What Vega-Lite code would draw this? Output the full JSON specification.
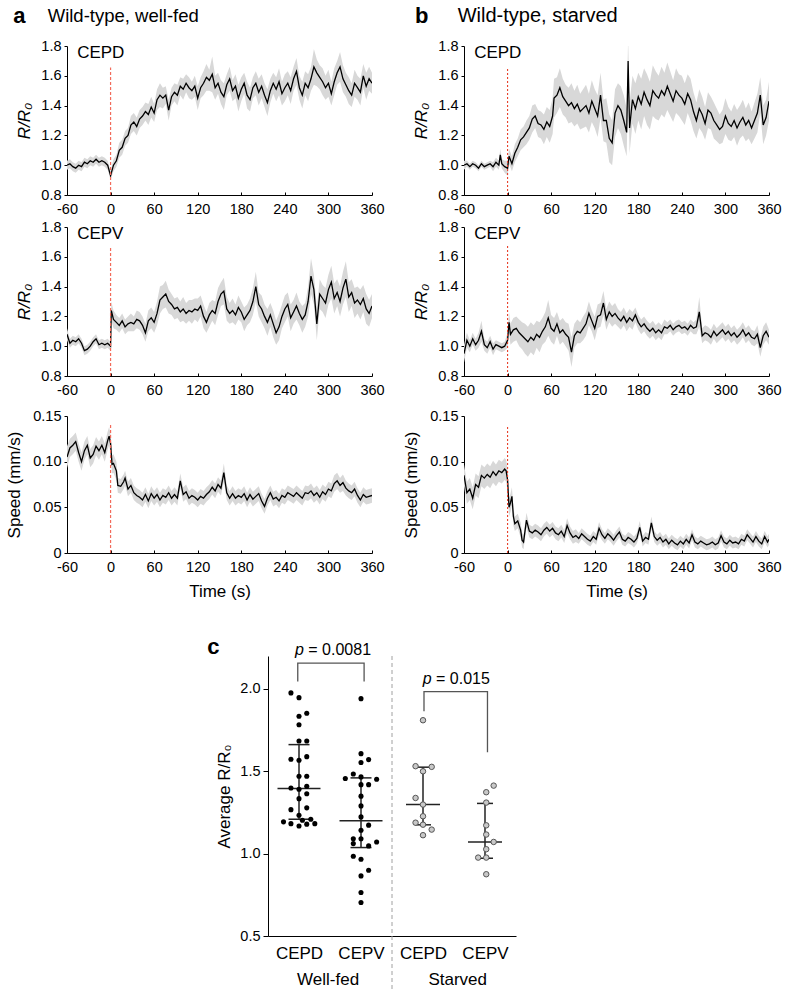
{
"$schema":"https://vega.github.io/schema/vega-lite/v6.json",
"background":"white",
"padding":5,
"config":{"font":"Liberation Sans","view":{"stroke":null},
"axis":{"grid":false,"domainColor":"#000","tickColor":"#000","labelColor":"#000","titleColor":"#000","labelFontSize":14.5,"titleFontSize":17,"titleFontWeight":"normal","domainWidth":1,"tickWidth":1,"labelOverlap":false,"labelFlush":false},
"text":{"color":"#000"}},
"datasets":{
"a1":[{"t":-60,"m":1.0,"e":0.03},{"t":-56,"m":1.01,"e":0.03},{"t":-52,"m":0.99,"e":0.03},{"t":-48,"m":0.98,"e":0.03},{"t":-44,"m":1.0,"e":0.03},{"t":-40,"m":0.99,"e":0.03},{"t":-36,"m":1.02,"e":0.03},{"t":-32,"m":1.01,"e":0.03},{"t":-28,"m":1.03,"e":0.03},{"t":-24,"m":1.02,"e":0.03},{"t":-20,"m":1.04,"e":0.03},{"t":-16,"m":1.02,"e":0.03},{"t":-12,"m":1.03,"e":0.03},{"t":-8,"m":1.02,"e":0.03},{"t":-4,"m":1.0,"e":0.03},{"t":0,"m":0.93,"e":0.03},{"t":4,"m":1.0,"e":0.04},{"t":8,"m":1.03,"e":0.04},{"t":12,"m":1.1,"e":0.05},{"t":16,"m":1.12,"e":0.05},{"t":20,"m":1.18,"e":0.05},{"t":24,"m":1.2,"e":0.05},{"t":28,"m":1.27,"e":0.06},{"t":32,"m":1.29,"e":0.06},{"t":36,"m":1.26,"e":0.06},{"t":40,"m":1.31,"e":0.06},{"t":44,"m":1.33,"e":0.06},{"t":48,"m":1.36,"e":0.06},{"t":52,"m":1.34,"e":0.07},{"t":56,"m":1.39,"e":0.07},{"t":60,"m":1.35,"e":0.06},{"t":64,"m":1.44,"e":0.07},{"t":68,"m":1.47,"e":0.08},{"t":72,"m":1.45,"e":0.07},{"t":76,"m":1.47,"e":0.06},{"t":80,"m":1.37,"e":0.07},{"t":84,"m":1.46,"e":0.06},{"t":88,"m":1.49,"e":0.06},{"t":92,"m":1.47,"e":0.07},{"t":96,"m":1.53,"e":0.06},{"t":100,"m":1.51,"e":0.07},{"t":104,"m":1.55,"e":0.06},{"t":108,"m":1.52,"e":0.07},{"t":112,"m":1.5,"e":0.06},{"t":116,"m":1.53,"e":0.07},{"t":120,"m":1.45,"e":0.08},{"t":124,"m":1.52,"e":0.07},{"t":128,"m":1.55,"e":0.08},{"t":132,"m":1.59,"e":0.09},{"t":136,"m":1.57,"e":0.07},{"t":140,"m":1.61,"e":0.12},{"t":144,"m":1.52,"e":0.08},{"t":148,"m":1.55,"e":0.07},{"t":152,"m":1.49,"e":0.08},{"t":156,"m":1.46,"e":0.09},{"t":160,"m":1.54,"e":0.07},{"t":164,"m":1.58,"e":0.08},{"t":168,"m":1.5,"e":0.07},{"t":172,"m":1.53,"e":0.08},{"t":176,"m":1.45,"e":0.09},{"t":180,"m":1.51,"e":0.08},{"t":184,"m":1.55,"e":0.07},{"t":188,"m":1.47,"e":0.09},{"t":192,"m":1.44,"e":0.08},{"t":196,"m":1.52,"e":0.07},{"t":200,"m":1.55,"e":0.08},{"t":204,"m":1.49,"e":0.09},{"t":208,"m":1.53,"e":0.08},{"t":212,"m":1.47,"e":0.08},{"t":216,"m":1.42,"e":0.09},{"t":220,"m":1.5,"e":0.08},{"t":224,"m":1.55,"e":0.07},{"t":228,"m":1.51,"e":0.08},{"t":232,"m":1.56,"e":0.09},{"t":236,"m":1.48,"e":0.08},{"t":240,"m":1.52,"e":0.09},{"t":244,"m":1.55,"e":0.08},{"t":248,"m":1.5,"e":0.09},{"t":252,"m":1.58,"e":0.08},{"t":256,"m":1.63,"e":0.09},{"t":260,"m":1.52,"e":0.08},{"t":264,"m":1.47,"e":0.09},{"t":268,"m":1.55,"e":0.08},{"t":272,"m":1.52,"e":0.09},{"t":276,"m":1.58,"e":0.08},{"t":280,"m":1.66,"e":0.12},{"t":284,"m":1.62,"e":0.09},{"t":288,"m":1.59,"e":0.08},{"t":292,"m":1.56,"e":0.09},{"t":296,"m":1.52,"e":0.08},{"t":300,"m":1.55,"e":0.09},{"t":304,"m":1.48,"e":0.08},{"t":308,"m":1.56,"e":0.09},{"t":312,"m":1.62,"e":0.08},{"t":316,"m":1.66,"e":0.1},{"t":320,"m":1.58,"e":0.09},{"t":324,"m":1.54,"e":0.08},{"t":328,"m":1.5,"e":0.09},{"t":332,"m":1.47,"e":0.08},{"t":336,"m":1.55,"e":0.09},{"t":340,"m":1.52,"e":0.08},{"t":344,"m":1.49,"e":0.09},{"t":348,"m":1.6,"e":0.08},{"t":352,"m":1.53,"e":0.09},{"t":356,"m":1.58,"e":0.08},{"t":360,"m":1.55,"e":0.07}],
"a2":[{"t":-60,"m":1.08,"e":0.04},{"t":-56,"m":1.02,"e":0.03},{"t":-52,"m":1.04,"e":0.03},{"t":-48,"m":1.03,"e":0.03},{"t":-44,"m":1.05,"e":0.03},{"t":-40,"m":1.02,"e":0.03},{"t":-36,"m":0.97,"e":0.03},{"t":-32,"m":0.98,"e":0.03},{"t":-28,"m":1.0,"e":0.03},{"t":-24,"m":1.03,"e":0.03},{"t":-20,"m":1.05,"e":0.03},{"t":-16,"m":1.01,"e":0.03},{"t":-12,"m":1.02,"e":0.03},{"t":-8,"m":1.01,"e":0.03},{"t":-4,"m":1.02,"e":0.03},{"t":0,"m":1.0,"e":0.03},{"t":1,"m":1.24,"e":0.06},{"t":4,"m":1.18,"e":0.06},{"t":8,"m":1.16,"e":0.05},{"t":12,"m":1.14,"e":0.05},{"t":16,"m":1.17,"e":0.05},{"t":20,"m":1.13,"e":0.05},{"t":24,"m":1.15,"e":0.05},{"t":28,"m":1.16,"e":0.06},{"t":32,"m":1.15,"e":0.05},{"t":36,"m":1.18,"e":0.06},{"t":40,"m":1.17,"e":0.06},{"t":44,"m":1.14,"e":0.06},{"t":48,"m":1.09,"e":0.06},{"t":52,"m":1.17,"e":0.07},{"t":56,"m":1.19,"e":0.07},{"t":60,"m":1.16,"e":0.07},{"t":64,"m":1.22,"e":0.08},{"t":68,"m":1.31,"e":0.09},{"t":72,"m":1.33,"e":0.08},{"t":76,"m":1.35,"e":0.09},{"t":80,"m":1.3,"e":0.08},{"t":84,"m":1.28,"e":0.07},{"t":88,"m":1.25,"e":0.07},{"t":92,"m":1.26,"e":0.07},{"t":96,"m":1.23,"e":0.07},{"t":100,"m":1.25,"e":0.08},{"t":104,"m":1.22,"e":0.07},{"t":108,"m":1.24,"e":0.07},{"t":112,"m":1.23,"e":0.08},{"t":116,"m":1.25,"e":0.07},{"t":120,"m":1.24,"e":0.08},{"t":124,"m":1.27,"e":0.07},{"t":128,"m":1.2,"e":0.08},{"t":132,"m":1.16,"e":0.07},{"t":136,"m":1.21,"e":0.08},{"t":140,"m":1.24,"e":0.07},{"t":144,"m":1.22,"e":0.08},{"t":148,"m":1.3,"e":0.09},{"t":152,"m":1.35,"e":0.08},{"t":156,"m":1.37,"e":0.09},{"t":160,"m":1.25,"e":0.08},{"t":164,"m":1.22,"e":0.07},{"t":168,"m":1.24,"e":0.08},{"t":172,"m":1.21,"e":0.07},{"t":176,"m":1.26,"e":0.08},{"t":180,"m":1.23,"e":0.07},{"t":184,"m":1.18,"e":0.08},{"t":188,"m":1.21,"e":0.07},{"t":192,"m":1.24,"e":0.08},{"t":196,"m":1.3,"e":0.09},{"t":200,"m":1.4,"e":0.1},{"t":204,"m":1.28,"e":0.08},{"t":208,"m":1.25,"e":0.09},{"t":212,"m":1.2,"e":0.08},{"t":216,"m":1.16,"e":0.09},{"t":220,"m":1.21,"e":0.08},{"t":224,"m":1.15,"e":0.09},{"t":228,"m":1.09,"e":0.08},{"t":232,"m":1.13,"e":0.09},{"t":236,"m":1.2,"e":0.08},{"t":240,"m":1.25,"e":0.09},{"t":244,"m":1.28,"e":0.08},{"t":248,"m":1.19,"e":0.09},{"t":252,"m":1.23,"e":0.08},{"t":256,"m":1.27,"e":0.09},{"t":260,"m":1.22,"e":0.08},{"t":264,"m":1.18,"e":0.09},{"t":268,"m":1.21,"e":0.08},{"t":272,"m":1.3,"e":0.1},{"t":276,"m":1.47,"e":0.12},{"t":280,"m":1.38,"e":0.1},{"t":284,"m":1.15,"e":0.11},{"t":288,"m":1.35,"e":0.1},{"t":292,"m":1.32,"e":0.09},{"t":296,"m":1.29,"e":0.1},{"t":300,"m":1.38,"e":0.1},{"t":304,"m":1.43,"e":0.11},{"t":308,"m":1.32,"e":0.1},{"t":312,"m":1.36,"e":0.09},{"t":316,"m":1.3,"e":0.1},{"t":320,"m":1.39,"e":0.11},{"t":324,"m":1.45,"e":0.12},{"t":328,"m":1.33,"e":0.1},{"t":332,"m":1.36,"e":0.09},{"t":336,"m":1.29,"e":0.1},{"t":340,"m":1.31,"e":0.09},{"t":344,"m":1.28,"e":0.1},{"t":348,"m":1.32,"e":0.09},{"t":352,"m":1.25,"e":0.1},{"t":356,"m":1.22,"e":0.09},{"t":360,"m":1.27,"e":0.08}],
"a3":[{"t":-60,"m":0.105,"e":0.012},{"t":-56,"m":0.115,"e":0.01},{"t":-52,"m":0.118,"e":0.01},{"t":-48,"m":0.122,"e":0.01},{"t":-44,"m":0.11,"e":0.01},{"t":-40,"m":0.1,"e":0.01},{"t":-36,"m":0.112,"e":0.01},{"t":-32,"m":0.118,"e":0.01},{"t":-28,"m":0.104,"e":0.01},{"t":-24,"m":0.108,"e":0.01},{"t":-20,"m":0.117,"e":0.01},{"t":-16,"m":0.112,"e":0.01},{"t":-12,"m":0.118,"e":0.01},{"t":-8,"m":0.11,"e":0.01},{"t":-4,"m":0.123,"e":0.01},{"t":-2,"m":0.128,"e":0.01},{"t":0,"m":0.12,"e":0.01},{"t":2,"m":0.097,"e":0.01},{"t":4,"m":0.098,"e":0.01},{"t":8,"m":0.09,"e":0.01},{"t":10,"m":0.074,"e":0.008},{"t":14,"m":0.073,"e":0.008},{"t":18,"m":0.078,"e":0.008},{"t":20,"m":0.082,"e":0.008},{"t":24,"m":0.07,"e":0.008},{"t":28,"m":0.074,"e":0.008},{"t":32,"m":0.066,"e":0.008},{"t":36,"m":0.063,"e":0.008},{"t":40,"m":0.061,"e":0.008},{"t":44,"m":0.058,"e":0.008},{"t":48,"m":0.064,"e":0.008},{"t":52,"m":0.057,"e":0.008},{"t":56,"m":0.065,"e":0.008},{"t":60,"m":0.06,"e":0.008},{"t":64,"m":0.064,"e":0.008},{"t":68,"m":0.058,"e":0.008},{"t":72,"m":0.063,"e":0.008},{"t":76,"m":0.061,"e":0.008},{"t":80,"m":0.066,"e":0.008},{"t":84,"m":0.06,"e":0.008},{"t":88,"m":0.064,"e":0.008},{"t":92,"m":0.06,"e":0.008},{"t":96,"m":0.079,"e":0.008},{"t":100,"m":0.064,"e":0.008},{"t":104,"m":0.067,"e":0.008},{"t":108,"m":0.06,"e":0.008},{"t":112,"m":0.063,"e":0.008},{"t":116,"m":0.061,"e":0.008},{"t":120,"m":0.058,"e":0.008},{"t":124,"m":0.062,"e":0.008},{"t":128,"m":0.06,"e":0.008},{"t":132,"m":0.064,"e":0.008},{"t":136,"m":0.067,"e":0.008},{"t":140,"m":0.072,"e":0.008},{"t":144,"m":0.068,"e":0.008},{"t":148,"m":0.075,"e":0.008},{"t":152,"m":0.071,"e":0.008},{"t":156,"m":0.088,"e":0.01},{"t":160,"m":0.066,"e":0.008},{"t":164,"m":0.06,"e":0.008},{"t":168,"m":0.065,"e":0.008},{"t":172,"m":0.06,"e":0.008},{"t":176,"m":0.063,"e":0.008},{"t":180,"m":0.061,"e":0.008},{"t":184,"m":0.065,"e":0.008},{"t":188,"m":0.058,"e":0.008},{"t":192,"m":0.064,"e":0.008},{"t":196,"m":0.059,"e":0.008},{"t":200,"m":0.062,"e":0.008},{"t":204,"m":0.065,"e":0.008},{"t":208,"m":0.057,"e":0.008},{"t":212,"m":0.051,"e":0.008},{"t":216,"m":0.06,"e":0.008},{"t":220,"m":0.066,"e":0.008},{"t":224,"m":0.059,"e":0.008},{"t":228,"m":0.061,"e":0.008},{"t":232,"m":0.057,"e":0.008},{"t":236,"m":0.063,"e":0.008},{"t":240,"m":0.061,"e":0.008},{"t":244,"m":0.066,"e":0.008},{"t":248,"m":0.064,"e":0.008},{"t":252,"m":0.062,"e":0.008},{"t":256,"m":0.066,"e":0.008},{"t":260,"m":0.063,"e":0.008},{"t":264,"m":0.06,"e":0.008},{"t":268,"m":0.066,"e":0.008},{"t":272,"m":0.065,"e":0.008},{"t":276,"m":0.068,"e":0.008},{"t":280,"m":0.063,"e":0.008},{"t":284,"m":0.066,"e":0.008},{"t":288,"m":0.061,"e":0.008},{"t":292,"m":0.067,"e":0.008},{"t":296,"m":0.064,"e":0.008},{"t":300,"m":0.07,"e":0.008},{"t":304,"m":0.068,"e":0.008},{"t":308,"m":0.076,"e":0.009},{"t":312,"m":0.079,"e":0.009},{"t":316,"m":0.074,"e":0.008},{"t":320,"m":0.077,"e":0.009},{"t":324,"m":0.071,"e":0.008},{"t":328,"m":0.068,"e":0.008},{"t":332,"m":0.066,"e":0.008},{"t":336,"m":0.07,"e":0.008},{"t":340,"m":0.063,"e":0.008},{"t":344,"m":0.058,"e":0.008},{"t":348,"m":0.064,"e":0.008},{"t":352,"m":0.061,"e":0.008},{"t":356,"m":0.062,"e":0.008},{"t":360,"m":0.063,"e":0.008}],
"b1":[{"t":-60,"m":1.0,"e":0.03},{"t":-56,"m":1.01,"e":0.02},{"t":-52,"m":0.99,"e":0.02},{"t":-48,"m":1.01,"e":0.02},{"t":-44,"m":1.0,"e":0.02},{"t":-40,"m":0.98,"e":0.02},{"t":-36,"m":1.01,"e":0.02},{"t":-32,"m":0.99,"e":0.02},{"t":-28,"m":1.0,"e":0.02},{"t":-24,"m":1.01,"e":0.02},{"t":-20,"m":0.99,"e":0.03},{"t":-16,"m":1.02,"e":0.03},{"t":-12,"m":1.0,"e":0.03},{"t":-10,"m":1.07,"e":0.04},{"t":-8,"m":1.01,"e":0.03},{"t":-4,"m":0.99,"e":0.04},{"t":0,"m":0.98,"e":0.05},{"t":2,"m":1.06,"e":0.05},{"t":6,"m":1.01,"e":0.05},{"t":10,"m":1.08,"e":0.06},{"t":14,"m":1.12,"e":0.06},{"t":18,"m":1.17,"e":0.07},{"t":22,"m":1.19,"e":0.07},{"t":26,"m":1.22,"e":0.08},{"t":30,"m":1.25,"e":0.08},{"t":34,"m":1.31,"e":0.09},{"t":38,"m":1.33,"e":0.08},{"t":42,"m":1.28,"e":0.09},{"t":46,"m":1.27,"e":0.09},{"t":50,"m":1.24,"e":0.1},{"t":54,"m":1.29,"e":0.1},{"t":58,"m":1.26,"e":0.11},{"t":62,"m":1.33,"e":0.12},{"t":64,"m":1.45,"e":0.13},{"t":68,"m":1.47,"e":0.12},{"t":72,"m":1.52,"e":0.13},{"t":76,"m":1.46,"e":0.12},{"t":80,"m":1.43,"e":0.11},{"t":84,"m":1.4,"e":0.12},{"t":88,"m":1.42,"e":0.13},{"t":92,"m":1.38,"e":0.12},{"t":96,"m":1.41,"e":0.13},{"t":100,"m":1.36,"e":0.12},{"t":104,"m":1.38,"e":0.13},{"t":108,"m":1.4,"e":0.14},{"t":112,"m":1.35,"e":0.13},{"t":116,"m":1.43,"e":0.14},{"t":120,"m":1.38,"e":0.13},{"t":124,"m":1.33,"e":0.14},{"t":128,"m":1.47,"e":0.15},{"t":132,"m":1.3,"e":0.14},{"t":136,"m":1.3,"e":0.15},{"t":140,"m":1.18,"e":0.16},{"t":144,"m":1.15,"e":0.15},{"t":148,"m":1.35,"e":0.16},{"t":152,"m":1.4,"e":0.15},{"t":156,"m":1.37,"e":0.16},{"t":160,"m":1.3,"e":0.17},{"t":164,"m":1.22,"e":0.16},{"t":166,"m":1.7,"e":0.15},{"t":168,"m":1.25,"e":0.17},{"t":172,"m":1.44,"e":0.16},{"t":176,"m":1.38,"e":0.17},{"t":180,"m":1.46,"e":0.16},{"t":184,"m":1.41,"e":0.17},{"t":188,"m":1.49,"e":0.16},{"t":192,"m":1.44,"e":0.17},{"t":196,"m":1.4,"e":0.16},{"t":200,"m":1.5,"e":0.17},{"t":204,"m":1.47,"e":0.16},{"t":208,"m":1.45,"e":0.15},{"t":212,"m":1.5,"e":0.16},{"t":216,"m":1.47,"e":0.15},{"t":220,"m":1.53,"e":0.16},{"t":224,"m":1.48,"e":0.15},{"t":228,"m":1.43,"e":0.14},{"t":232,"m":1.5,"e":0.15},{"t":236,"m":1.47,"e":0.14},{"t":240,"m":1.45,"e":0.15},{"t":244,"m":1.41,"e":0.14},{"t":248,"m":1.48,"e":0.13},{"t":252,"m":1.44,"e":0.14},{"t":256,"m":1.36,"e":0.13},{"t":260,"m":1.3,"e":0.12},{"t":264,"m":1.38,"e":0.13},{"t":268,"m":1.34,"e":0.12},{"t":272,"m":1.28,"e":0.11},{"t":276,"m":1.37,"e":0.12},{"t":280,"m":1.35,"e":0.11},{"t":284,"m":1.3,"e":0.12},{"t":288,"m":1.27,"e":0.11},{"t":292,"m":1.24,"e":0.1},{"t":296,"m":1.26,"e":0.11},{"t":300,"m":1.33,"e":0.12},{"t":304,"m":1.28,"e":0.11},{"t":308,"m":1.26,"e":0.1},{"t":312,"m":1.3,"e":0.11},{"t":316,"m":1.25,"e":0.12},{"t":320,"m":1.29,"e":0.11},{"t":324,"m":1.32,"e":0.12},{"t":328,"m":1.27,"e":0.11},{"t":332,"m":1.3,"e":0.12},{"t":336,"m":1.25,"e":0.11},{"t":340,"m":1.3,"e":0.12},{"t":344,"m":1.35,"e":0.13},{"t":348,"m":1.47,"e":0.12},{"t":352,"m":1.27,"e":0.13},{"t":356,"m":1.32,"e":0.12},{"t":360,"m":1.43,"e":0.13}],
"b2":[{"t":-60,"m":0.95,"e":0.06},{"t":-56,"m":1.04,"e":0.05},{"t":-52,"m":1.0,"e":0.04},{"t":-48,"m":1.05,"e":0.04},{"t":-44,"m":1.01,"e":0.04},{"t":-40,"m":1.04,"e":0.05},{"t":-36,"m":1.1,"e":0.07},{"t":-32,"m":1.01,"e":0.04},{"t":-28,"m":0.99,"e":0.04},{"t":-24,"m":1.03,"e":0.04},{"t":-20,"m":0.98,"e":0.04},{"t":-16,"m":1.01,"e":0.03},{"t":-12,"m":1.0,"e":0.03},{"t":-8,"m":0.99,"e":0.03},{"t":-4,"m":1.0,"e":0.03},{"t":0,"m":1.04,"e":0.05},{"t":2,"m":1.16,"e":0.07},{"t":4,"m":1.08,"e":0.07},{"t":8,"m":1.11,"e":0.08},{"t":12,"m":1.12,"e":0.08},{"t":16,"m":1.09,"e":0.09},{"t":20,"m":1.07,"e":0.09},{"t":24,"m":1.05,"e":0.1},{"t":28,"m":1.03,"e":0.1},{"t":32,"m":1.06,"e":0.1},{"t":36,"m":1.04,"e":0.1},{"t":40,"m":1.08,"e":0.09},{"t":44,"m":1.06,"e":0.1},{"t":48,"m":1.1,"e":0.09},{"t":52,"m":1.13,"e":0.1},{"t":56,"m":1.19,"e":0.12},{"t":60,"m":1.12,"e":0.09},{"t":64,"m":1.1,"e":0.09},{"t":68,"m":1.15,"e":0.08},{"t":72,"m":1.09,"e":0.08},{"t":76,"m":1.11,"e":0.08},{"t":80,"m":1.08,"e":0.08},{"t":84,"m":1.06,"e":0.09},{"t":88,"m":0.96,"e":0.1},{"t":92,"m":1.07,"e":0.08},{"t":96,"m":1.1,"e":0.08},{"t":100,"m":1.09,"e":0.07},{"t":104,"m":1.12,"e":0.08},{"t":108,"m":1.15,"e":0.08},{"t":112,"m":1.22,"e":0.08},{"t":116,"m":1.17,"e":0.07},{"t":120,"m":1.12,"e":0.08},{"t":124,"m":1.2,"e":0.08},{"t":128,"m":1.21,"e":0.08},{"t":132,"m":1.29,"e":0.08},{"t":136,"m":1.18,"e":0.07},{"t":140,"m":1.23,"e":0.07},{"t":144,"m":1.2,"e":0.07},{"t":148,"m":1.22,"e":0.07},{"t":152,"m":1.19,"e":0.06},{"t":156,"m":1.17,"e":0.06},{"t":160,"m":1.2,"e":0.06},{"t":164,"m":1.16,"e":0.06},{"t":168,"m":1.19,"e":0.06},{"t":172,"m":1.17,"e":0.06},{"t":176,"m":1.21,"e":0.05},{"t":180,"m":1.16,"e":0.05},{"t":184,"m":1.13,"e":0.05},{"t":188,"m":1.15,"e":0.05},{"t":192,"m":1.12,"e":0.05},{"t":196,"m":1.1,"e":0.05},{"t":200,"m":1.12,"e":0.05},{"t":204,"m":1.09,"e":0.05},{"t":208,"m":1.11,"e":0.05},{"t":212,"m":1.09,"e":0.05},{"t":216,"m":1.13,"e":0.05},{"t":220,"m":1.12,"e":0.04},{"t":224,"m":1.14,"e":0.04},{"t":228,"m":1.11,"e":0.04},{"t":232,"m":1.13,"e":0.04},{"t":236,"m":1.14,"e":0.04},{"t":240,"m":1.12,"e":0.04},{"t":244,"m":1.13,"e":0.04},{"t":248,"m":1.11,"e":0.04},{"t":252,"m":1.14,"e":0.04},{"t":256,"m":1.12,"e":0.04},{"t":260,"m":1.13,"e":0.05},{"t":264,"m":1.23,"e":0.1},{"t":268,"m":1.07,"e":0.05},{"t":272,"m":1.09,"e":0.05},{"t":276,"m":1.08,"e":0.05},{"t":280,"m":1.06,"e":0.05},{"t":284,"m":1.1,"e":0.05},{"t":288,"m":1.07,"e":0.05},{"t":292,"m":1.09,"e":0.05},{"t":296,"m":1.11,"e":0.05},{"t":300,"m":1.08,"e":0.05},{"t":304,"m":1.1,"e":0.05},{"t":308,"m":1.07,"e":0.05},{"t":312,"m":1.09,"e":0.05},{"t":316,"m":1.06,"e":0.05},{"t":320,"m":1.08,"e":0.05},{"t":324,"m":1.11,"e":0.05},{"t":328,"m":1.07,"e":0.05},{"t":332,"m":1.09,"e":0.05},{"t":336,"m":1.06,"e":0.05},{"t":340,"m":1.05,"e":0.05},{"t":344,"m":1.08,"e":0.06},{"t":348,"m":0.99,"e":0.06},{"t":352,"m":1.07,"e":0.06},{"t":356,"m":1.1,"e":0.06},{"t":360,"m":1.06,"e":0.05}],
"b3":[{"t":-60,"m":0.085,"e":0.012},{"t":-56,"m":0.066,"e":0.012},{"t":-52,"m":0.07,"e":0.012},{"t":-48,"m":0.06,"e":0.012},{"t":-44,"m":0.075,"e":0.012},{"t":-40,"m":0.072,"e":0.012},{"t":-36,"m":0.085,"e":0.012},{"t":-32,"m":0.082,"e":0.012},{"t":-28,"m":0.086,"e":0.012},{"t":-24,"m":0.083,"e":0.012},{"t":-20,"m":0.089,"e":0.012},{"t":-16,"m":0.085,"e":0.012},{"t":-12,"m":0.09,"e":0.012},{"t":-8,"m":0.088,"e":0.012},{"t":-4,"m":0.092,"e":0.012},{"t":-2,"m":0.09,"e":0.012},{"t":0,"m":0.08,"e":0.012},{"t":2,"m":0.05,"e":0.01},{"t":4,"m":0.055,"e":0.01},{"t":6,"m":0.062,"e":0.01},{"t":8,"m":0.04,"e":0.01},{"t":10,"m":0.032,"e":0.008},{"t":14,"m":0.035,"e":0.008},{"t":18,"m":0.025,"e":0.008},{"t":20,"m":0.014,"e":0.008},{"t":22,"m":0.012,"e":0.008},{"t":26,"m":0.036,"e":0.008},{"t":30,"m":0.024,"e":0.007},{"t":34,"m":0.022,"e":0.007},{"t":38,"m":0.025,"e":0.007},{"t":42,"m":0.023,"e":0.007},{"t":46,"m":0.02,"e":0.007},{"t":50,"m":0.025,"e":0.007},{"t":54,"m":0.028,"e":0.007},{"t":58,"m":0.024,"e":0.007},{"t":62,"m":0.027,"e":0.007},{"t":66,"m":0.022,"e":0.007},{"t":70,"m":0.02,"e":0.007},{"t":74,"m":0.024,"e":0.007},{"t":78,"m":0.018,"e":0.007},{"t":82,"m":0.03,"e":0.008},{"t":86,"m":0.022,"e":0.007},{"t":90,"m":0.017,"e":0.007},{"t":94,"m":0.019,"e":0.007},{"t":98,"m":0.016,"e":0.006},{"t":102,"m":0.021,"e":0.006},{"t":106,"m":0.018,"e":0.006},{"t":110,"m":0.015,"e":0.006},{"t":114,"m":0.013,"e":0.006},{"t":118,"m":0.018,"e":0.006},{"t":122,"m":0.015,"e":0.006},{"t":126,"m":0.027,"e":0.007},{"t":130,"m":0.02,"e":0.006},{"t":134,"m":0.016,"e":0.006},{"t":138,"m":0.021,"e":0.006},{"t":142,"m":0.018,"e":0.006},{"t":146,"m":0.014,"e":0.006},{"t":150,"m":0.019,"e":0.006},{"t":154,"m":0.023,"e":0.006},{"t":158,"m":0.015,"e":0.006},{"t":162,"m":0.013,"e":0.006},{"t":166,"m":0.017,"e":0.006},{"t":170,"m":0.015,"e":0.006},{"t":174,"m":0.012,"e":0.006},{"t":178,"m":0.016,"e":0.006},{"t":182,"m":0.028,"e":0.007},{"t":186,"m":0.013,"e":0.006},{"t":190,"m":0.017,"e":0.006},{"t":194,"m":0.015,"e":0.006},{"t":198,"m":0.033,"e":0.007},{"t":202,"m":0.018,"e":0.006},{"t":206,"m":0.014,"e":0.006},{"t":210,"m":0.017,"e":0.006},{"t":214,"m":0.012,"e":0.006},{"t":218,"m":0.015,"e":0.006},{"t":222,"m":0.01,"e":0.006},{"t":226,"m":0.014,"e":0.006},{"t":230,"m":0.011,"e":0.006},{"t":234,"m":0.009,"e":0.006},{"t":238,"m":0.013,"e":0.006},{"t":242,"m":0.01,"e":0.006},{"t":246,"m":0.015,"e":0.006},{"t":250,"m":0.011,"e":0.006},{"t":254,"m":0.02,"e":0.006},{"t":258,"m":0.012,"e":0.006},{"t":262,"m":0.01,"e":0.006},{"t":266,"m":0.013,"e":0.006},{"t":270,"m":0.011,"e":0.006},{"t":274,"m":0.009,"e":0.006},{"t":278,"m":0.01,"e":0.006},{"t":282,"m":0.012,"e":0.006},{"t":286,"m":0.009,"e":0.006},{"t":290,"m":0.011,"e":0.006},{"t":294,"m":0.019,"e":0.006},{"t":298,"m":0.012,"e":0.006},{"t":302,"m":0.01,"e":0.006},{"t":306,"m":0.014,"e":0.006},{"t":310,"m":0.011,"e":0.006},{"t":314,"m":0.012,"e":0.006},{"t":318,"m":0.01,"e":0.006},{"t":322,"m":0.015,"e":0.006},{"t":326,"m":0.013,"e":0.006},{"t":330,"m":0.02,"e":0.006},{"t":334,"m":0.016,"e":0.006},{"t":338,"m":0.012,"e":0.006},{"t":342,"m":0.018,"e":0.006},{"t":346,"m":0.013,"e":0.006},{"t":350,"m":0.01,"e":0.006},{"t":354,"m":0.018,"e":0.006},{"t":358,"m":0.012,"e":0.006},{"t":360,"m":0.015,"e":0.006}],
"dots":[{"g":"WF","x":0.37,"v":1.976},{"g":"WF","x":0.5,"v":1.947},{"g":"WF","x":0.625,"v":1.852},{"g":"WF","x":0.5,"v":1.834},{"g":"WF","x":0.5,"v":1.783},{"g":"WF","x":0.5,"v":1.684},{"g":"WF","x":0.625,"v":1.684},{"g":"WF","x":0.37,"v":1.573},{"g":"WF","x":0.5,"v":1.567},{"g":"WF","x":0.625,"v":1.589},{"g":"WF","x":0.5,"v":1.47},{"g":"WF","x":0.625,"v":1.47},{"g":"WF","x":0.37,"v":1.399},{"g":"WF","x":0.5,"v":1.391},{"g":"WF","x":0.625,"v":1.409},{"g":"WF","x":0.625,"v":1.364},{"g":"WF","x":0.5,"v":1.334},{"g":"WF","x":0.37,"v":1.267},{"g":"WF","x":0.625,"v":1.278},{"g":"WF","x":0.5,"v":1.233},{"g":"WF","x":0.25,"v":1.193},{"g":"WF","x":0.37,"v":1.182},{"g":"WF","x":0.5,"v":1.168},{"g":"WF","x":0.555,"v":1.203},{"g":"WF","x":0.625,"v":1.179},{"g":"WF","x":0.69,"v":1.209},{"g":"WF","x":0.755,"v":1.182},
{"g":"WF","x":1.5,"v":1.941},{"g":"WF","x":1.5,"v":1.607},{"g":"WF","x":1.623,"v":1.571},{"g":"WF","x":1.5,"v":1.553},{"g":"WF","x":1.376,"v":1.484},{"g":"WF","x":1.247,"v":1.456},{"g":"WF","x":1.5,"v":1.466},{"g":"WF","x":1.752,"v":1.452},{"g":"WF","x":1.5,"v":1.419},{"g":"WF","x":1.623,"v":1.419},{"g":"WF","x":1.5,"v":1.349},{"g":"WF","x":1.5,"v":1.29},{"g":"WF","x":1.5,"v":1.223},{"g":"WF","x":1.623,"v":1.173},{"g":"WF","x":1.5,"v":1.142},{"g":"WF","x":1.376,"v":1.09},{"g":"WF","x":1.5,"v":1.09},{"g":"WF","x":1.376,"v":1.061},{"g":"WF","x":1.623,"v":1.047},{"g":"WF","x":1.752,"v":1.071},{"g":"WF","x":1.376,"v":0.984},{"g":"WF","x":1.5,"v":0.966},{"g":"WF","x":1.623,"v":0.899},{"g":"WF","x":1.5,"v":0.865},{"g":"WF","x":1.5,"v":0.764},{"g":"WF","x":1.5,"v":0.703},
{"g":"S","x":2.5,"v":1.81},{"g":"S","x":2.38,"v":1.531},{"g":"S","x":2.64,"v":1.527},{"g":"S","x":2.5,"v":1.5},{"g":"S","x":2.38,"v":1.338},{"g":"S","x":2.5,"v":1.298},{"g":"S","x":2.5,"v":1.227},{"g":"S","x":2.38,"v":1.188},{"g":"S","x":2.5,"v":1.176},{"g":"S","x":2.64,"v":1.146},{"g":"S","x":2.5,"v":1.112},
{"g":"S","x":3.64,"v":1.413},{"g":"S","x":3.52,"v":1.373},{"g":"S","x":3.52,"v":1.31},{"g":"S","x":3.52,"v":1.172},{"g":"S","x":3.52,"v":1.116},{"g":"S","x":3.64,"v":1.071},{"g":"S","x":3.52,"v":1.027},{"g":"S","x":3.39,"v":0.976},{"g":"S","x":3.52,"v":0.976},{"g":"S","x":3.52,"v":0.875}],
"stats":[{"g":"WF","x":0.5,"med":1.395,"q1":1.209,"q3":1.662},{"g":"WF","x":1.5,"med":1.199,"q1":1.037,"q3":1.46},{"g":"S","x":2.5,"med":1.298,"q1":1.175,"q3":1.525},{"g":"S","x":3.5,"med":1.071,"q1":0.972,"q3":1.305}],
"br":[{"b":1,"o":1,"x":0.48,"v":2.045},{"b":1,"o":2,"x":0.48,"v":2.157},{"b":1,"o":3,"x":1.55,"v":2.157},{"b":1,"o":4,"x":1.55,"v":2.045},{"b":2,"o":1,"x":2.516,"v":1.865},{"b":2,"o":2,"x":2.516,"v":1.984},{"b":2,"o":3,"x":3.54,"v":1.984},{"b":2,"o":4,"x":3.54,"v":1.616}]
},
"vconcat":[
{"concat":[
{"width":305,"height":149,"layer":[
{"data":{"name":"a1"},"mark":{"type":"errorband","band":{"color":"#d8d8d8","opacity":1,"clip":true}},"encoding":{"x":{"field":"t","type":"quantitative","scale":{"domain":[-60,360],"nice":false},"axis":{"title":null,"values":[-60,0,60,120,180,240,300,360],"tickCount":10,"labelExpr":"''+datum.value","tickSize":-3,"labelPadding":10}},"y":{"field":"m","type":"quantitative","scale":{"domain":[0.8,1.8],"nice":false},"axis":{"title":"R/R₀","titleFontStyle":"italic","values":[0.8,1,1.2,1.4,1.6,1.8],"tickCount":10,"format":".1f","tickSize":3,"labelPadding":3,"titlePadding":7}},"yError":{"field":"e"}}},
{"data":{"name":"a1"},"mark":{"type":"line","color":"#000","strokeWidth":1.3,"clip":true},"encoding":{"x":{"field":"t","type":"quantitative","scale":{"domain":[-60,360],"nice":false}},"y":{"field":"m","type":"quantitative","scale":{"domain":[0.8,1.8],"nice":false},"axis":{"title":"R/R₀","titleFontStyle":"italic","values":[0.8,1,1.2,1.4,1.6,1.8],"tickCount":10,"format":".1f","tickSize":3,"labelPadding":3,"titlePadding":7}}}},
{"data":{"values":[{"t":0}]},"mark":{"type":"rule","color":"#f26b5b","strokeDash":[3,2],"strokeWidth":1.2},"encoding":{"x":{"field":"t","type":"quantitative","scale":{"domain":[-60,360],"nice":false}},"y":{"datum":0.8,"scale":{"domain":[0.8,1.8],"nice":false}},"y2":{"datum":1.655}}},
{"data":{"values":[{"t":-46,"m":1.75,"s":"CEPD"},{"t":-86.6,"m":2.0,"s":"Wild-type, well-fed"}]},"mark":{"type":"text","align":"left","baseline":"middle"},"encoding":{"x":{"field":"t","type":"quantitative","scale":{"domain":[-60,360],"nice":false}},"y":{"field":"m","type":"quantitative","scale":{"domain":[0.8,1.8],"nice":false}},"text":{"field":"s"},"size":{"field":"s","type":"nominal","scale":{"domain":["CEPD","Wild-type, well-fed"],"range":[17,20]},"legend":null}}},
{"data":{"values":[{"t":-134,"m":2.0,"s":"a"}]},"mark":{"type":"text","align":"left","baseline":"middle","fontSize":22,"fontWeight":"bold"},"encoding":{"x":{"field":"t","type":"quantitative","scale":{"domain":[-60,360],"nice":false}},"y":{"field":"m","type":"quantitative","scale":{"domain":[0.8,1.8],"nice":false}},"text":{"field":"s"}}}
]},
{"width":305,"height":149,"layer":[
{"data":{"name":"b1"},"mark":{"type":"errorband","band":{"color":"#d8d8d8","opacity":1,"clip":true}},"encoding":{"x":{"field":"t","type":"quantitative","scale":{"domain":[-60,360],"nice":false},"axis":{"title":null,"values":[-60,0,60,120,180,240,300,360],"tickCount":10,"labelExpr":"''+datum.value","tickSize":-3,"labelPadding":10}},"y":{"field":"m","type":"quantitative","scale":{"domain":[0.8,1.8],"nice":false},"axis":{"title":"R/R₀","titleFontStyle":"italic","values":[0.8,1,1.2,1.4,1.6,1.8],"tickCount":10,"format":".1f","tickSize":3,"labelPadding":3,"titlePadding":7}},"yError":{"field":"e"}}},
{"data":{"name":"b1"},"mark":{"type":"line","color":"#000","strokeWidth":1.3,"clip":true},"encoding":{"x":{"field":"t","type":"quantitative","scale":{"domain":[-60,360],"nice":false}},"y":{"field":"m","type":"quantitative","scale":{"domain":[0.8,1.8],"nice":false},"axis":{"title":"R/R₀","titleFontStyle":"italic","values":[0.8,1,1.2,1.4,1.6,1.8],"tickCount":10,"format":".1f","tickSize":3,"labelPadding":3,"titlePadding":7}}}},
{"data":{"values":[{"t":0}]},"mark":{"type":"rule","color":"#e8402a","strokeDash":[2,2],"strokeWidth":1.1},"encoding":{"x":{"field":"t","type":"quantitative","scale":{"domain":[-60,360],"nice":false}},"y":{"datum":0.8,"scale":{"domain":[0.8,1.8],"nice":false}},"y2":{"datum":1.655}}},
{"data":{"values":[{"t":-46,"m":1.75,"s":"CEPD"},{"t":-68.7,"m":2.0,"s":"Wild-type, starved"}]},"mark":{"type":"text","align":"left","baseline":"middle"},"encoding":{"x":{"field":"t","type":"quantitative","scale":{"domain":[-60,360],"nice":false}},"y":{"field":"m","type":"quantitative","scale":{"domain":[0.8,1.8],"nice":false}},"text":{"field":"s"},"size":{"field":"s","type":"nominal","scale":{"domain":["CEPD","Wild-type, starved"],"range":[17,20]},"legend":null}}},
{"data":{"values":[{"t":-127.5,"m":2.0,"s":"b"}]},"mark":{"type":"text","align":"left","baseline":"middle","fontSize":22,"fontWeight":"bold"},"encoding":{"x":{"field":"t","type":"quantitative","scale":{"domain":[-60,360],"nice":false}},"y":{"field":"m","type":"quantitative","scale":{"domain":[0.8,1.8],"nice":false}},"text":{"field":"s"}}}
]},
{"width":305,"height":149,"layer":[
{"data":{"name":"a2"},"mark":{"type":"errorband","band":{"color":"#d8d8d8","opacity":1,"clip":true}},"encoding":{"x":{"field":"t","type":"quantitative","scale":{"domain":[-60,360],"nice":false},"axis":{"title":null,"values":[-60,0,60,120,180,240,300,360],"tickCount":10,"labelExpr":"''+datum.value","tickSize":-3,"labelPadding":10}},"y":{"field":"m","type":"quantitative","scale":{"domain":[0.8,1.8],"nice":false},"axis":{"title":"R/R₀","titleFontStyle":"italic","values":[0.8,1,1.2,1.4,1.6,1.8],"tickCount":10,"format":".1f","tickSize":3,"labelPadding":3,"titlePadding":7}},"yError":{"field":"e"}}},
{"data":{"name":"a2"},"mark":{"type":"line","color":"#000","strokeWidth":1.3,"clip":true},"encoding":{"x":{"field":"t","type":"quantitative","scale":{"domain":[-60,360],"nice":false}},"y":{"field":"m","type":"quantitative","scale":{"domain":[0.8,1.8],"nice":false},"axis":{"title":"R/R₀","titleFontStyle":"italic","values":[0.8,1,1.2,1.4,1.6,1.8],"tickCount":10,"format":".1f","tickSize":3,"labelPadding":3,"titlePadding":7}}}},
{"data":{"values":[{"t":0}]},"mark":{"type":"rule","color":"#f26b5b","strokeDash":[3,2],"strokeWidth":1.2},"encoding":{"x":{"field":"t","type":"quantitative","scale":{"domain":[-60,360],"nice":false}},"y":{"datum":0.8,"scale":{"domain":[0.8,1.8],"nice":false}},"y2":{"datum":1.66}}},
{"data":{"values":[{"t":-46,"m":1.75,"s":"CEPV"}]},"mark":{"type":"text","align":"left","baseline":"middle","fontSize":17},"encoding":{"x":{"field":"t","type":"quantitative","scale":{"domain":[-60,360],"nice":false}},"y":{"field":"m","type":"quantitative","scale":{"domain":[0.8,1.8],"nice":false}},"text":{"field":"s"}}}
]},
{"width":305,"height":149,"layer":[
{"data":{"name":"b2"},"mark":{"type":"errorband","band":{"color":"#d8d8d8","opacity":1,"clip":true}},"encoding":{"x":{"field":"t","type":"quantitative","scale":{"domain":[-60,360],"nice":false},"axis":{"title":null,"values":[-60,0,60,120,180,240,300,360],"tickCount":10,"labelExpr":"''+datum.value","tickSize":-3,"labelPadding":10}},"y":{"field":"m","type":"quantitative","scale":{"domain":[0.8,1.8],"nice":false},"axis":{"title":"R/R₀","titleFontStyle":"italic","values":[0.8,1,1.2,1.4,1.6,1.8],"tickCount":10,"format":".1f","tickSize":3,"labelPadding":3,"titlePadding":7}},"yError":{"field":"e"}}},
{"data":{"name":"b2"},"mark":{"type":"line","color":"#000","strokeWidth":1.3,"clip":true},"encoding":{"x":{"field":"t","type":"quantitative","scale":{"domain":[-60,360],"nice":false}},"y":{"field":"m","type":"quantitative","scale":{"domain":[0.8,1.8],"nice":false},"axis":{"title":"R/R₀","titleFontStyle":"italic","values":[0.8,1,1.2,1.4,1.6,1.8],"tickCount":10,"format":".1f","tickSize":3,"labelPadding":3,"titlePadding":7}}}},
{"data":{"values":[{"t":0}]},"mark":{"type":"rule","color":"#e8402a","strokeDash":[2,2],"strokeWidth":1.1},"encoding":{"x":{"field":"t","type":"quantitative","scale":{"domain":[-60,360],"nice":false}},"y":{"datum":0.8,"scale":{"domain":[0.8,1.8],"nice":false}},"y2":{"datum":1.68}}},
{"data":{"values":[{"t":-46,"m":1.75,"s":"CEPV"}]},"mark":{"type":"text","align":"left","baseline":"middle","fontSize":17},"encoding":{"x":{"field":"t","type":"quantitative","scale":{"domain":[-60,360],"nice":false}},"y":{"field":"m","type":"quantitative","scale":{"domain":[0.8,1.8],"nice":false}},"text":{"field":"s"}}}
]},
{"width":305,"height":137,"layer":[
{"data":{"name":"a3"},"mark":{"type":"errorband","band":{"color":"#d8d8d8","opacity":1,"clip":true}},"encoding":{"x":{"field":"t","type":"quantitative","scale":{"domain":[-60,360],"nice":false},"axis":{"title":"Time (s)","values":[-60,0,60,120,180,240,300,360],"tickCount":10,"labelExpr":"''+datum.value","tickSize":-3,"labelPadding":10,"titlePadding":10}},"y":{"field":"m","type":"quantitative","scale":{"domain":[0,0.15],"nice":false},"axis":{"title":"Speed (mm/s)","values":[0,0.05,0.1,0.15],"tickCount":10,"labelExpr":"datum.value==0?'0':format(datum.value,'.2f')","tickSize":3,"labelPadding":3,"titlePadding":9}},"yError":{"field":"e"}}},
{"data":{"name":"a3"},"mark":{"type":"line","color":"#000","strokeWidth":1.3,"clip":true},"encoding":{"x":{"field":"t","type":"quantitative","scale":{"domain":[-60,360],"nice":false}},"y":{"field":"m","type":"quantitative","scale":{"domain":[0,0.15],"nice":false}}}},
{"data":{"values":[{"t":0}]},"mark":{"type":"rule","color":"#f26b5b","strokeDash":[3,2],"strokeWidth":1.2},"encoding":{"x":{"field":"t","type":"quantitative","scale":{"domain":[-60,360],"nice":false}},"y":{"datum":0,"scale":{"domain":[0,0.15],"nice":false}},"y2":{"datum":0.141}}},
{"data":{"values":[{"t":0,"m":0.16,"s":"."}]},"mark":{"type":"text","opacity":0,"fontSize":11,"baseline":"middle"},"encoding":{"x":{"field":"t","type":"quantitative","scale":{"domain":[-60,360],"nice":false}},"y":{"field":"m","type":"quantitative","scale":{"domain":[0,0.15],"nice":false}},"text":{"field":"s"}}}
]},
{"width":305,"height":137,"layer":[
{"data":{"name":"b3"},"mark":{"type":"errorband","band":{"color":"#d8d8d8","opacity":1,"clip":true}},"encoding":{"x":{"field":"t","type":"quantitative","scale":{"domain":[-60,360],"nice":false},"axis":{"title":"Time (s)","values":[-60,0,60,120,180,240,300,360],"tickCount":10,"labelExpr":"''+datum.value","tickSize":-3,"labelPadding":10,"titlePadding":10}},"y":{"field":"m","type":"quantitative","scale":{"domain":[0,0.15],"nice":false},"axis":{"title":"Speed (mm/s)","values":[0,0.05,0.1,0.15],"tickCount":10,"labelExpr":"datum.value==0?'0':format(datum.value,'.2f')","tickSize":3,"labelPadding":3,"titlePadding":9}},"yError":{"field":"e"}}},
{"data":{"name":"b3"},"mark":{"type":"line","color":"#000","strokeWidth":1.3,"clip":true},"encoding":{"x":{"field":"t","type":"quantitative","scale":{"domain":[-60,360],"nice":false}},"y":{"field":"m","type":"quantitative","scale":{"domain":[0,0.15],"nice":false}}}},
{"data":{"values":[{"t":0}]},"mark":{"type":"rule","color":"#e8402a","strokeDash":[2,2],"strokeWidth":1.1},"encoding":{"x":{"field":"t","type":"quantitative","scale":{"domain":[-60,360],"nice":false}},"y":{"datum":0,"scale":{"domain":[0,0.15],"nice":false}},"y2":{"datum":0.14}}},
{"data":{"values":[{"t":0,"m":0.16,"s":"."}]},"mark":{"type":"text","opacity":0,"fontSize":11,"baseline":"middle"},"encoding":{"x":{"field":"t","type":"quantitative","scale":{"domain":[-60,360],"nice":false}},"y":{"field":"m","type":"quantitative","scale":{"domain":[0,0.15],"nice":false}},"text":{"field":"s"}}}
]}
],"columns":2,"align":"each","spacing":{"row":3,"column":17}},
{"hconcat":[
{"width":137,"height":10,"data":{"values":[{"x":0},{"x":1}]},"mark":{"type":"point","opacity":0},"encoding":{"x":{"field":"x","type":"quantitative","axis":null,"scale":{"domain":[0,1]}}}},
{"width":248,"height":280,"resolve":{"scale":{"size":"independent"}},"layer":[
{"data":{"values":[{"x":2}]},"mark":{"type":"rule","color":"#a0a0a0","strokeDash":[4,3],"strokeWidth":1},"encoding":{"x":{"field":"x","type":"quantitative","scale":{"domain":[0,4],"nice":false}},"y":{"datum":2.2,"scale":{"domain":[0.5,2.2],"nice":false}},"y2":{"datum":0.16}}},
{"data":{"name":"stats"},"mark":{"type":"rule","color":"#222","strokeWidth":1.5},"encoding":{"x":{"field":"x","type":"quantitative","scale":{"domain":[0,4],"nice":false}},"y":{"field":"q1","type":"quantitative","scale":{"domain":[0.5,2.2],"nice":false}},"y2":{"field":"q3"}}},
{"data":{"name":"stats"},"mark":{"type":"tick","orient":"horizontal","color":"#222","thickness":1.5,"opacity":1},"encoding":{"x":{"field":"x","type":"quantitative","scale":{"domain":[0,4],"nice":false}},"y":{"field":"med","type":"quantitative","scale":{"domain":[0.5,2.2],"nice":false}},"size":{"field":"g","type":"nominal","scale":{"domain":["WF","S"],"range":[43,34]},"legend":null}}},
{"data":{"name":"stats"},"mark":{"type":"tick","orient":"horizontal","color":"#222","thickness":1.5,"opacity":1},"encoding":{"x":{"field":"x","type":"quantitative","scale":{"domain":[0,4],"nice":false}},"y":{"field":"q1","type":"quantitative","scale":{"domain":[0.5,2.2],"nice":false}},"size":{"field":"g","type":"nominal","scale":{"domain":["WF","S"],"range":[21,16]},"legend":null}}},
{"data":{"name":"stats"},"mark":{"type":"tick","orient":"horizontal","color":"#222","thickness":1.5,"opacity":1},"encoding":{"x":{"field":"x","type":"quantitative","scale":{"domain":[0,4],"nice":false}},"y":{"field":"q3","type":"quantitative","scale":{"domain":[0.5,2.2],"nice":false}},"size":{"field":"g","type":"nominal","scale":{"domain":["WF","S"],"range":[21,16]},"legend":null}}},
{"data":{"name":"dots"},"transform":[{"filter":"datum.g=='WF'"}],"mark":{"type":"circle","color":"#000","size":26,"opacity":1},"encoding":{"x":{"field":"x","type":"quantitative","scale":{"domain":[0,4],"nice":false},"axis":{"title":null,"values":[0.5,1.5,2.5,3.5],"tickCount":10,"labelExpr":"(datum.value==0.5||datum.value==2.5)?'CEPD':'CEPV'","ticks":false,"labelPadding":9,"labelFontSize":17}},"y":{"field":"v","type":"quantitative","scale":{"domain":[0.5,2.2],"nice":false},"axis":{"title":"Average R/R₀","values":[0.5,1,1.5,2],"tickCount":10,"format":".1f","tickSize":5,"labelPadding":3,"labelFontSize":14.5,"titleFontSize":17,"titlePadding":6}}}},
{"data":{"name":"dots"},"transform":[{"filter":"datum.g=='S'"}],"mark":{"type":"point","filled":true,"fill":"#c8c8c8","stroke":"#555","strokeWidth":1,"size":30,"opacity":1},"encoding":{"x":{"field":"x","type":"quantitative","scale":{"domain":[0,4],"nice":false}},"y":{"field":"v","type":"quantitative","scale":{"domain":[0.5,2.2],"nice":false}}}},
{"data":{"name":"br"},"mark":{"type":"line","color":"#555","strokeWidth":1.3},"encoding":{"x":{"field":"x","type":"quantitative","scale":{"domain":[0,4],"nice":false}},"y":{"field":"v","type":"quantitative","scale":{"domain":[0.5,2.2],"nice":false}},"detail":{"field":"b"},"order":{"field":"o"}}},
{"data":{"values":[{"x":0.435,"v":2.235,"s":"p"},{"x":2.495,"v":2.063,"s":"p"}]},"mark":{"type":"text","align":"left","baseline":"middle","fontSize":16,"fontStyle":"italic"},"encoding":{"x":{"field":"x","type":"quantitative","scale":{"domain":[0,4],"nice":false}},"y":{"field":"v","type":"quantitative","scale":{"domain":[0.5,2.2],"nice":false}},"text":{"field":"s"}}},
{"data":{"values":[{"x":0.65,"v":2.235,"s":"= 0.0081"},{"x":2.71,"v":2.063,"s":"= 0.015"}]},"mark":{"type":"text","align":"left","baseline":"middle","fontSize":16},"encoding":{"x":{"field":"x","type":"quantitative","scale":{"domain":[0,4],"nice":false}},"y":{"field":"v","type":"quantitative","scale":{"domain":[0.5,2.2],"nice":false}},"text":{"field":"s"}}},
{"data":{"values":[{"x":0.97,"v":0.233,"s":"Well-fed"},{"x":3.06,"v":0.233,"s":"Starved"}]},"mark":{"type":"text","align":"center","baseline":"middle","fontSize":17},"encoding":{"x":{"field":"x","type":"quantitative","scale":{"domain":[0,4],"nice":false}},"y":{"field":"v","type":"quantitative","scale":{"domain":[0.5,2.2],"nice":false}},"text":{"field":"s"}}},
{"data":{"values":[{"x":-0.98,"v":2.255,"s":"c"}]},"mark":{"type":"text","align":"left","baseline":"middle","fontSize":22,"fontWeight":"bold"},"encoding":{"x":{"field":"x","type":"quantitative","scale":{"domain":[0,4],"nice":false}},"y":{"field":"v","type":"quantitative","scale":{"domain":[0.5,2.2],"nice":false}},"text":{"field":"s"}}}
]}
],"spacing":0}
],
"spacing":35
}
